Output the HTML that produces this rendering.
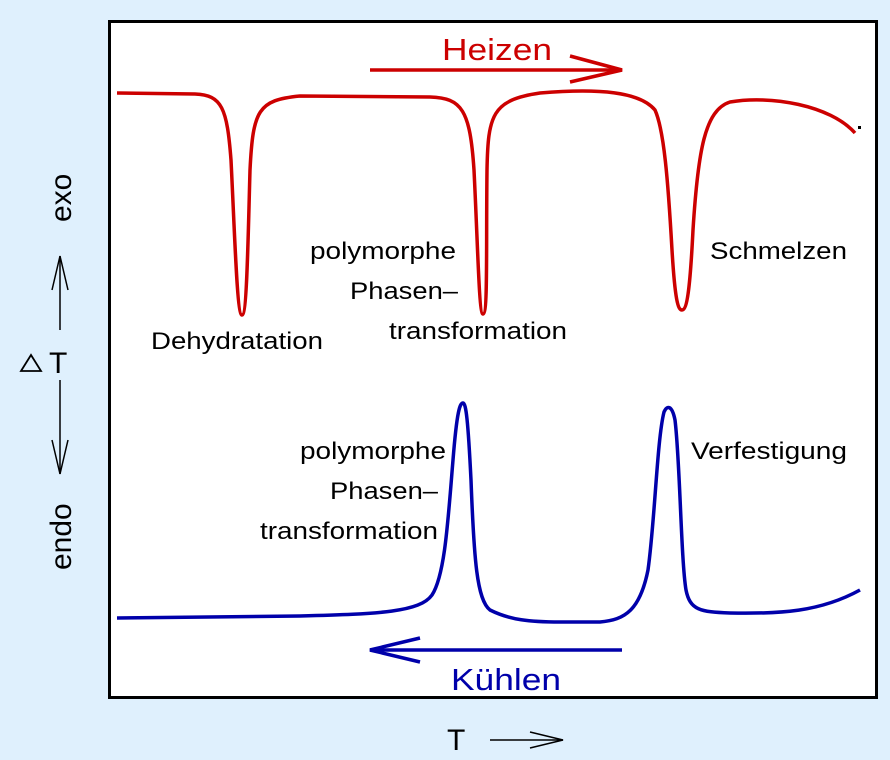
<!DOCTYPE html>
<html><head><meta charset="utf-8"><style>
body{margin:0;background:#dff0fd;}
svg{display:block;font-family:"Liberation Sans",sans-serif;}
</style></head><body>
<svg width="890" height="760" viewBox="0 0 890 760">
<rect x="0" y="0" width="890" height="760" fill="#dff0fd"/>
<rect x="109.5" y="21.5" width="767" height="676" fill="#fff" stroke="#000" stroke-width="3"/>
<path fill="none" stroke="#cc0000" stroke-width="3.5" d="M117,93 L195,94 C222,95 227,108 231,160 C235,240 237,315 242,315 C247,315 248,240 250,170 C253,110 258,100 300,96 L430,97 C462,98 470,110 474,170 C478,250 479,314 483,314 C488,314 486,250 487,170 C488,115 492,100 540,93 C600,88 640,92 655,110 C664,130 668,180 672,250 C675,300 678,310 682,310 C687,310 690,290 693,230 C698,150 705,110 730,102 C770,95 830,105 855,133"/>
<rect x="858" y="126" width="3" height="3" fill="#000"/>
<path fill="none" stroke="#0000aa" stroke-width="3.5" d="M117,618 L300,616 C380,614 420,612 432,595 C445,575 448,520 453,460 C457,410 460,403 463,403 C466,403 468,420 471,480 C474,560 477,600 490,610 C510,620 530,622 560,622 L600,622 C625,620 640,610 648,570 C655,520 657,440 664,412 C667,405 672,405 675,420 C680,460 681,560 686,590 C690,610 700,612 730,613 C780,614 820,612 860,590"/>
<line x1="370" y1="70" x2="622" y2="70" stroke="#cc0000" stroke-width="3.5"/>
<polyline points="570,56 622,70 570,82" fill="none" stroke="#cc0000" stroke-width="3.5"/>
<text x="442" y="60" font-size="31" fill="#cc0000" textLength="110" lengthAdjust="spacingAndGlyphs">Heizen</text>
<line x1="370" y1="650" x2="622" y2="650" stroke="#0000aa" stroke-width="3.5"/>
<polyline points="420,638 370,650 420,662" fill="none" stroke="#0000aa" stroke-width="3.5"/>
<text x="451" y="690" font-size="31" fill="#0000aa" textLength="110" lengthAdjust="spacingAndGlyphs">Kühlen</text>
<g font-size="24" fill="#000" lengthAdjust="spacingAndGlyphs">
<text x="151" y="349" textLength="172" lengthAdjust="spacingAndGlyphs">Dehydratation</text>
<text x="310" y="259" textLength="146" lengthAdjust="spacingAndGlyphs">polymorphe</text>
<text x="350" y="299" textLength="108" lengthAdjust="spacingAndGlyphs">Phasen–</text>
<text x="389" y="339" textLength="178" lengthAdjust="spacingAndGlyphs">transformation</text>
<text x="710" y="259" textLength="137" lengthAdjust="spacingAndGlyphs">Schmelzen</text>
<text x="300" y="459" textLength="146" lengthAdjust="spacingAndGlyphs">polymorphe</text>
<text x="330" y="499" textLength="108" lengthAdjust="spacingAndGlyphs">Phasen–</text>
<text x="260" y="539" textLength="178" lengthAdjust="spacingAndGlyphs">transformation</text>
<text x="691" y="459" textLength="156" lengthAdjust="spacingAndGlyphs">Verfestigung</text>
</g>
<g font-size="30" fill="#000">
<text transform="translate(71,222) rotate(-90)">exo</text>
<text transform="translate(71,570) rotate(-90)">endo</text>
<text x="49" y="373">T</text>
<text x="447" y="750">T</text>
</g>
<polygon points="21,371 31,355 41,371" fill="none" stroke="#000" stroke-width="1.8"/>
<line x1="60" y1="256" x2="60" y2="330" stroke="#000" stroke-width="1.5"/>
<polyline points="52,290 60,256 68,290" fill="none" stroke="#000" stroke-width="1.5"/>
<line x1="60" y1="380" x2="60" y2="474" stroke="#000" stroke-width="1.5"/>
<polyline points="52,440 60,474 68,440" fill="none" stroke="#000" stroke-width="1.5"/>
<line x1="490" y1="740" x2="563" y2="740" stroke="#000" stroke-width="1.5"/>
<polyline points="530,732 563,740 530,748" fill="none" stroke="#000" stroke-width="1.5"/>
</svg>
</body></html>
